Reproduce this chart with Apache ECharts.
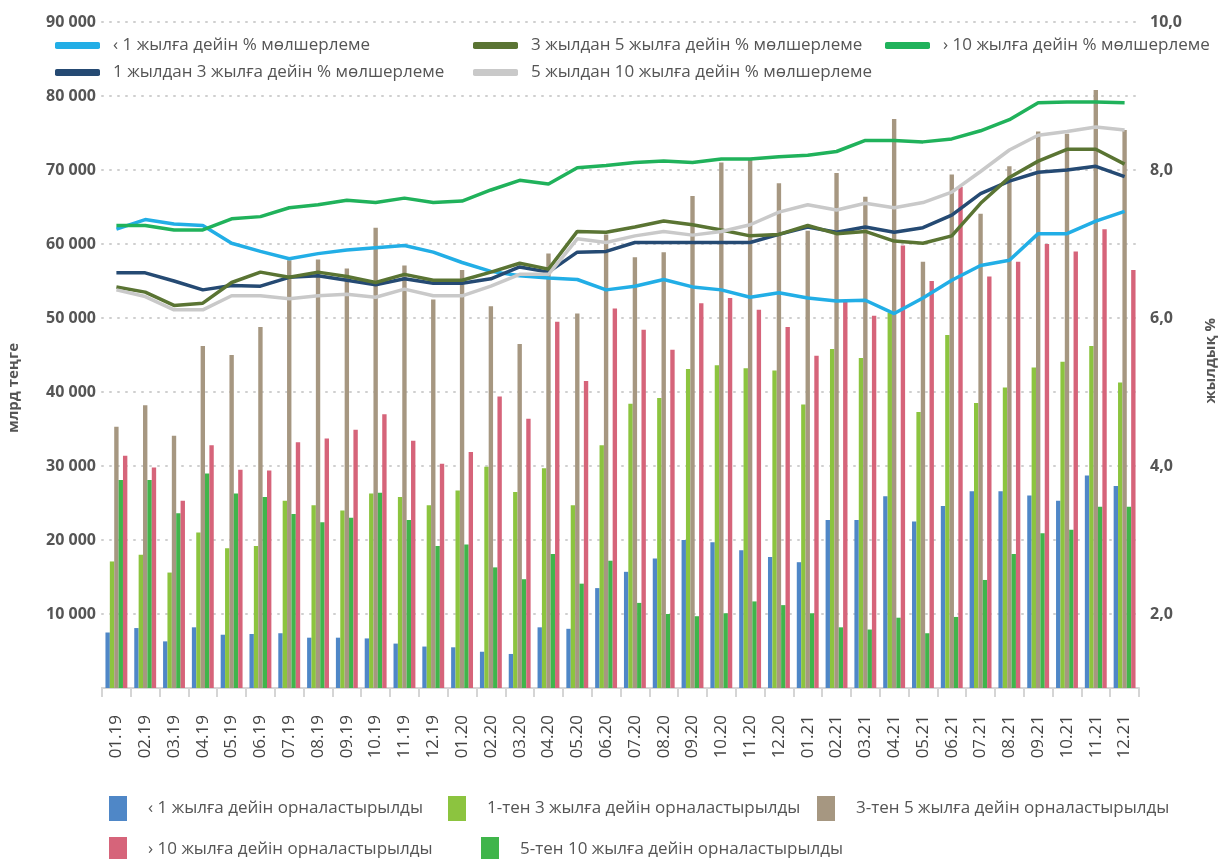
<!doctype html>
<html>
<head>
<meta charset="UTF-8">
<script src="https://cdn.jsdelivr.net/npm/echarts@6/dist/echarts.min.js"></script>
<style>
  html, body { margin: 0; padding: 0; background: #fff; }
  #chart { width: 1227px; height: 859px; }
</style>
</head>
<body>
<div id="chart"></div>
<script type="text/javascript">
    // айлар
    var months = ['01.19','02.19','03.19','04.19','05.19','06.19','07.19','08.19','09.19','10.19','11.19','12.19',
                  '01.20','02.20','03.20','04.20','05.20','06.20','07.20','08.20','09.20','10.20','11.20','12.20',
                  '01.21','02.21','03.21','04.21','05.21','06.21','07.21','08.21','09.21','10.21','11.21','12.21'];

    // орналастырылды, млрд теңге
    var placedUnder1 = [7500, 8100, 6300, 8200, 7200, 7300, 7400, 6800, 6800, 6700, 6000, 5600,
                        5500, 4900, 4600, 8200, 8000, 13500, 15700, 17500, 20000, 19700, 18600, 17700,
                        17000, 22700, 22700, 25900, 22500, 24600, 26600, 26600, 26000, 25300, 28700, 27300];
    var placed1to3 = [17100, 18000, 15600, 21000, 18900, 19200, 25300, 24700, 24000, 26300, 25800, 24700,
                      26700, 29900, 26500, 29700, 24700, 32800, 38400, 39200, 43100, 43600, 43200, 42900,
                      38300, 45800, 44600, 50700, 37300, 47700, 38500, 40600, 43300, 44100, 46200, 41300];
    var placed3to5 = [35300, 38200, 34100, 46200, 45000, 48800, 57800, 57900, 56700, 62200, 57100, 52500,
                      56500, 51600, 46500, 58700, 50600, 61300, 58200, 58900, 66500, 71000, 71400, 68200,
                      61800, 69600, 66400, 76900, 57600, 69400, 64100, 70500, 75200, 74900, 80800, 75400];
    var placed5to10 = [28100, 28100, 23600, 29000, 26300, 25800, 23500, 22400, 23000, 26400, 22700, 19200,
                       19400, 16300, 14700, 18100, 14100, 17200, 11500, 10000, 9700, 10100, 11700, 11200,
                       10100, 8200, 7900, 9500, 7400, 9600, 14600, 18100, 20900, 21400, 24500, 24500];
    var placedOver10 = [31400, 29800, 25300, 32800, 29500, 29400, 33200, 33700, 34900, 37000, 33400, 30300,
                        31900, 39400, 36400, 49500, 41500, 51300, 48400, 45700, 52000, 52700, 51100, 48800,
                        44900, 52200, 50300, 59800, 55000, 67700, 55600, 57600, 60000, 59000, 62000, 56500];

    // мөлшерлеме, жылдық %
    var rateUnder1 = [7.20, 7.33, 7.27, 7.25, 7.01, 6.90, 6.80, 6.87, 6.92, 6.95, 6.98, 6.89,
                      6.75, 6.63, 6.57, 6.54, 6.52, 6.38, 6.43, 6.52, 6.42, 6.38, 6.28, 6.34,
                      6.27, 6.23, 6.24, 6.06, 6.27, 6.51, 6.71, 6.78, 7.14, 7.14, 7.31, 7.44];
    var rate1to3 = [6.61, 6.61, 6.50, 6.38, 6.44, 6.43, 6.55, 6.57, 6.51, 6.45, 6.53, 6.47,
                    6.47, 6.53, 6.69, 6.62, 6.89, 6.90, 7.02, 7.02, 7.02, 7.02, 7.02, 7.13,
                    7.23, 7.16, 7.23, 7.16, 7.22, 7.39, 7.68, 7.85, 7.97, 8.00, 8.05, 7.91];
    var rate3to5 = [6.42, 6.35, 6.17, 6.20, 6.48, 6.62, 6.55, 6.62, 6.56, 6.48, 6.59, 6.51,
                    6.51, 6.62, 6.74, 6.66, 7.17, 7.16, 7.23, 7.31, 7.26, 7.19, 7.11, 7.13,
                    7.25, 7.14, 7.17, 7.04, 7.01, 7.11, 7.55, 7.90, 8.12, 8.28, 8.28, 8.08];
    var rate5to10 = [6.38, 6.29, 6.11, 6.11, 6.30, 6.30, 6.26, 6.30, 6.32, 6.28, 6.39, 6.30,
                     6.30, 6.43, 6.59, 6.59, 7.07, 7.02, 7.11, 7.17, 7.12, 7.17, 7.26, 7.43,
                     7.53, 7.46, 7.55, 7.49, 7.56, 7.70, 7.98, 8.27, 8.47, 8.52, 8.58, 8.54];
    var rateOver10 = [7.25, 7.25, 7.19, 7.19, 7.34, 7.37, 7.49, 7.53, 7.59, 7.56, 7.62, 7.56,
                      7.58, 7.73, 7.86, 7.81, 8.03, 8.06, 8.10, 8.12, 8.10, 8.15, 8.15, 8.18,
                      8.20, 8.25, 8.40, 8.40, 8.38, 8.42, 8.53, 8.68, 8.91, 8.92, 8.92, 8.91];

    var FONT = 'Open Sans';
    var barNames = ['‹ 1 жылға дейін орналастырылды', '1-тен 3 жылға дейін орналастырылды',
                    '3-тен 5 жылға дейін орналастырылды', '5-тен 10 жылға дейін орналастырылды',
                    '› 10 жылға дейін орналастырылды'];
    var barColors = ['#4f87c7', '#8cc43f', '#a69781', '#40b54b', '#d6647a'];
    var barData = [placedUnder1, placed1to3, placed3to5, placed5to10, placedOver10];

    var lineNames = ['‹ 1 жылға дейін % мөлшерлеме', '1 жылдан 3 жылға дейін % мөлшерлеме',
                     '3 жылдан 5 жылға дейін % мөлшерлеме', '5 жылдан 10 жылға дейін % мөлшерлеме',
                     '› 10 жылға дейін % мөлшерлеме'];
    var lineColors = ['#22aee6', '#254a73', '#5a7433', '#c9c9c9', '#20b25b'];
    var lineData = [rateUnder1, rate1to3, rate3to5, rate5to10, rateOver10];

    var series = [];
    barNames.forEach(function (n, i) {
        series.push({
            name: n, type: 'bar', yAxisIndex: 0, data: barData[i],
            barGap: '0%', barCategoryGap: '24%',
            itemStyle: { color: barColors[i] }
        });
    });
    lineNames.forEach(function (n, i) {
        series.push({
            name: n, type: 'line', yAxisIndex: 1, data: lineData[i],
            showSymbol: false, symbol: 'none',
            lineStyle: { color: lineColors[i], width: 3.5 },
            itemStyle: { color: lineColors[i] },
            z: 5
        });
    });

    // легендалар - әрқайсысы өз орнында
    function lineLegend(name, x, y) {
        return {
            data: [name], left: x, top: y, selectedMode: false,
            icon: 'roundRect', itemWidth: 45, itemHeight: 7,
            textStyle: { fontFamily: FONT, fontSize: 17, color: '#555', padding: [0, 0, 0, 8] }
        };
    }
    function barLegend(name, x, y) {
        return {
            data: [name], left: x, top: y, selectedMode: false,
            icon: 'rect', itemWidth: 18, itemHeight: 25,
            textStyle: { fontFamily: FONT, fontSize: 17, color: '#555', padding: [0, 0, 0, 16] }
        };
    }

    function thousands(v) {
        return String(v).replace(/\B(?=(\d{3})+(?!\d))/g, ' ');
    }

    var myChart = echarts.init(document.getElementById('chart'));
    var option = {
        animation: false,
        backgroundColor: '#fff',
        grid: { left: 102, right: 88, top: 22, bottom: 171 },
        legend: [
            lineLegend(lineNames[0], 50, 32),
            lineLegend(lineNames[2], 468, 32),
            lineLegend(lineNames[4], 880, 32),
            lineLegend(lineNames[1], 50, 59),
            lineLegend(lineNames[3], 468, 59),
            barLegend(barNames[0], 104, 791),
            barLegend(barNames[1], 443, 791),
            barLegend(barNames[2], 812, 791),
            barLegend(barNames[4], 104, 832),
            barLegend(barNames[3], 476, 832)
        ],
        xAxis: {
            type: 'category',
            data: months,
            axisLine: { lineStyle: { color: '#d5d5d5', width: 2 } },
            axisTick: { show: true, length: 9, lineStyle: { color: '#d5d5d5', width: 2 } },
            axisLabel: { rotate: 90, margin: 27, fontFamily: FONT, fontSize: 17, color: '#444' }
        },
        yAxis: [{
            type: 'value', min: 0, max: 90000, interval: 10000,
            axisLine: { show: false }, axisTick: { show: false },
            axisLabel: {
                margin: 6, fontFamily: FONT, fontSize: 16, fontWeight: 'bold', color: '#555',
                formatter: function (v) { return v === 0 ? '' : thousands(v); }
            },
            splitLine: { lineStyle: { color: '#cfcfcf', width: 2, type: [1, 7], cap: 'round' } }
        }, {
            type: 'value', min: 1, max: 10, interval: 1,
            axisLine: { show: false }, axisTick: { show: false },
            axisLabel: {
                margin: 11, fontFamily: FONT, fontSize: 16, fontWeight: 'bold', color: '#555',
                formatter: function (v) { return (Math.round(v) % 2 === 0) ? v.toFixed(1).replace('.', ',') : ''; }
            },
            splitLine: { show: false }
        }],
        graphic: [{
            type: 'text', left: 6, top: 343, rotation: Math.PI / 2,
            style: { text: 'млрд теңге', font: 'bold 15px "Open Sans"', fill: '#555' }
        }, {
            type: 'text', left: 1203, top: 318, rotation: Math.PI / 2,
            style: { text: 'жылдық %', font: 'bold 15px "Open Sans"', fill: '#555' }
        }],
        series: series
    };
    myChart.setOption(option);
</script>
</body>
</html>
